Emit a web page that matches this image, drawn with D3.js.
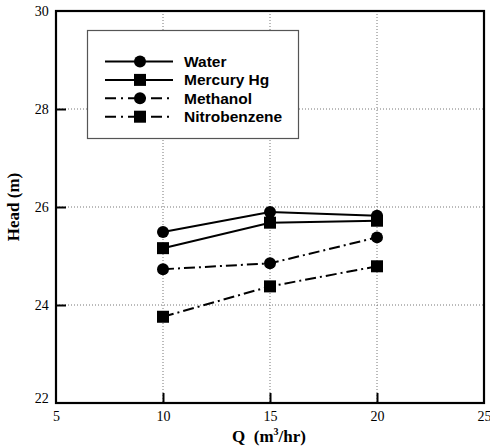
<!DOCTYPE html>
<html>
<head>
<meta charset="utf-8">
<script src="https://cdn.jsdelivr.net/npm/d3@7"></script>
<style>
  body { margin: 0; background: #fff; }
  svg { display: block; }
</style>
</head>
<body>
<div id="chart"></div>
<script>
"use strict";

// data
var flows = [10, 15, 20];
var water = [25.49, 25.90, 25.82];
var mercury = [25.16, 25.68, 25.72];
var methanol = [24.73, 24.85, 25.38];
var nitrobenzene = [23.76, 24.38, 24.79];
var seriesNames = ["Water", "Mercury Hg", "Methanol", "Nitrobenzene"];
var xTicks = [5, 10, 15, 20, 25];
var yTicks = [22, 24, 26, 28, 30];

var W = 490, H = 446;
var margin = { top: 11, right: 6, bottom: 43, left: 56 };
var width = W - margin.left - margin.right;
var height = H - margin.top - margin.bottom;
var serif = "'Liberation Serif', 'Times New Roman', serif";

var svg = d3.select("#chart").append("svg").attr("width", W).attr("height", H);
var g = svg.append("g").attr("transform", "translate(" + margin.left + "," + margin.top + ")");

var xScale = d3.scaleLinear().domain([5, 25]).range([0, width]);
var yScale = d3.scaleLinear().domain([22, 30]).range([height, 0]);

// dotted grid
g.selectAll(".vgrid").data(xTicks.slice(1, -1)).enter().append("line")
  .attr("x1", function (d) { return xScale(d); }).attr("x2", function (d) { return xScale(d); })
  .attr("y1", 0).attr("y2", height)
  .attr("stroke", "#777").attr("stroke-width", 1).attr("stroke-dasharray", "1,2");
g.selectAll(".hgrid").data(yTicks.slice(1, -1)).enter().append("line")
  .attr("x1", 0).attr("x2", width)
  .attr("y1", function (d) { return yScale(d); }).attr("y2", function (d) { return yScale(d); })
  .attr("stroke", "#777").attr("stroke-width", 1).attr("stroke-dasharray", "1,2");

// axes with inward ticks
var xAxis = d3.axisBottom(xScale).tickValues(xTicks).tickSizeInner(-10).tickSizeOuter(0).tickPadding(8);
var yAxis = d3.axisLeft(yScale).tickValues(yTicks).tickSizeInner(-10).tickSizeOuter(0).tickPadding(17);

var gx = g.append("g").attr("transform", "translate(0," + height + ")").call(xAxis);
var gy = g.append("g").call(yAxis);
[gx, gy].forEach(function (a) {
  a.attr("font-family", null).attr("font-size", null);
  a.select(".domain").remove();
  a.selectAll(".tick line").attr("stroke", "#000").attr("stroke-width", 2);
  a.selectAll(".tick text").style("font-family", serif).style("font-size", "14px").attr("fill", "#000");
});
gy.selectAll(".tick text").attr("dx", "0.7em");
gy.selectAll(".tick").filter(function (d) { return d === 22 || d === 30; }).select("line").remove();
gx.selectAll(".tick").filter(function (d) { return d === 5 || d === 25; }).select("line").remove();
gy.selectAll(".tick").filter(function (d) { return d === 22; }).select("text").attr("dy", "-0.05em");

// frame
g.append("rect").attr("x", 0).attr("y", 0).attr("width", width).attr("height", height)
  .attr("fill", "none").attr("stroke", "#000").attr("stroke-width", 2.2);

// series
var series = [
  { name: seriesNames[0], values: water, marker: "circle", dash: null },
  { name: seriesNames[1], values: mercury, marker: "square", dash: null },
  { name: seriesNames[2], values: methanol, marker: "circle", dash: "11,4,2,4" },
  { name: seriesNames[3], values: nitrobenzene, marker: "square", dash: "11,4,2,4" }
];

var line = d3.line()
  .x(function (d, i) { return xScale(flows[i]); })
  .y(function (d) { return yScale(d); });

function drawMarker(sel, type, x, y) {
  if (type === "circle") {
    sel.append("circle").attr("cx", x).attr("cy", y).attr("r", 6).attr("fill", "#000");
  } else {
    sel.append("rect").attr("x", x - 6).attr("y", y - 6).attr("width", 12).attr("height", 12).attr("fill", "#000");
  }
}

series.forEach(function (s) {
  g.append("path").datum(s.values).attr("d", line)
    .attr("fill", "none").attr("stroke", "#000").attr("stroke-width", 2)
    .attr("stroke-dasharray", s.dash);
  s.values.forEach(function (v, i) {
    drawMarker(g, s.marker, xScale(flows[i]), yScale(v));
  });
});

// legend
var legend = svg.append("g");
legend.append("rect").attr("x", 87.5).attr("y", 30.5).attr("width", 211).attr("height", 108)
  .attr("fill", "#fff").attr("stroke", "#555").attr("stroke-width", 1.2);
series.forEach(function (s, i) {
  var y = 61.5 + i * 18.4;
  legend.append("line").attr("x1", 105).attr("x2", 173).attr("y1", y).attr("y2", y)
    .attr("stroke", "#000").attr("stroke-width", 2).attr("stroke-dasharray", s.dash ? "11,5,2,5" : null);
  drawMarker(legend, s.marker, 140, y);
  legend.append("text").attr("x", 184).attr("y", y + 5.5).text(s.name)
    .style("font-family", "'Liberation Sans', Arial, sans-serif").attr("font-weight", "bold")
    .style("font-size", "15.5px").attr("fill", "#000");
});

// axis titles
var xt = svg.append("text").attr("text-anchor", "middle")
  .attr("transform", "translate(" + 269 + "," + 442 + ")")
  .style("font-family", serif).attr("font-weight", "bold").style("font-size", "17px");
xt.append("tspan").text("Q\u00a0\u00a0(m");
xt.append("tspan").text("3").style("font-size", "10px").attr("dy", -7);
xt.append("tspan").text("/hr)").attr("dy", 7);

svg.append("text").attr("text-anchor", "middle")
  .attr("transform", "translate(19,207)rotate(-90)")
  .style("font-family", serif).attr("font-weight", "bold").style("font-size", "17px")
  .text("Head (m)");
</script>
</body>
</html>
